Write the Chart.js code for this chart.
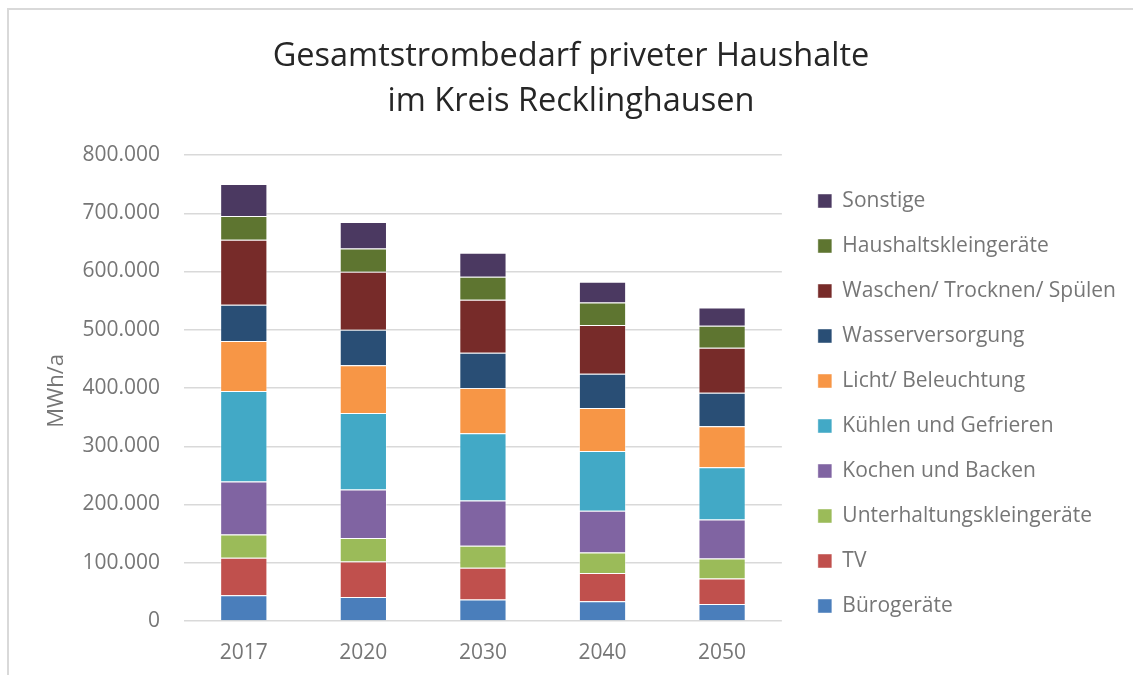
<!DOCTYPE html>
<html>
<head>
<meta charset="utf-8">
<script src="https://cdn.jsdelivr.net/npm/chart.js@4.4.1/dist/chart.umd.min.js"></script>
<style>
  html, body { margin: 0; padding: 0; background: #fff; }
  #wrap { position: relative; width: 1133px; height: 675px; overflow: hidden; }
  #frame { position: absolute; left: 7px; top: 8px; width: 1300px; height: 900px;
           border-left: 2px solid #d9d9d9; border-top: 2px solid #d9d9d9; }
  canvas { position: absolute; left: 0; top: 0; }
</style>
</head>
<body>
<div id="wrap">
  <div id="frame"></div>
  <canvas id="c" width="1133" height="675"></canvas>
</div>
<script>
const categories = ['2017', '2020', '2030', '2040', '2050'];

const buerogeraete        = [44000, 41100, 37100, 33700, 29100];
const tv                  = [64600, 61200, 54300, 48600, 44000];
const unterhaltung        = [40000, 40000, 37700, 35400, 34300];
const kochenBacken        = [90800, 83400, 77800, 71400, 66900];
const kuehlenGefrieren    = [155500, 131400, 115400, 102900, 89700];
const lichtBeleuchtung    = [85700, 81800, 77700, 73700, 70300];
const wasserversorgung    = [62300, 61100, 60600, 58900, 57700];
const waschenTrocknen     = [111400, 99400, 90800, 83400, 77100];
const haushaltsklein      = [41100, 40000, 39500, 38900, 37700];
const sonstige            = [54900, 45700, 41100, 35400, 31400];

const seriesNames = ['Bürogeräte', 'TV', 'Unterhaltungskleingeräte', 'Kochen und Backen',
  'Kühlen und Gefrieren', 'Licht/ Beleuchtung', 'Wasserversorgung',
  'Waschen/ Trocknen/ Spülen', 'Haushaltskleingeräte', 'Sonstige'];
const seriesValues = [buerogeraete, tv, unterhaltung, kochenBacken, kuehlenGefrieren,
  lichtBeleuchtung, wasserversorgung, waschenTrocknen, haushaltsklein, sonstige];
const seriesColors = ['#4a7ebb', '#c0504d', '#9bbb59', '#8064a2', '#42a9c6',
  '#f79646', '#294e75', '#772b29', '#5e7530', '#4b3961'];

const yTicks = [0, 100000, 200000, 300000, 400000, 500000, 600000, 700000, 800000];

const fmt = v => String(v).replace(/\B(?=(\d{3})+(?!\d))/g, '.');

const datasets = seriesNames.map((name, i) => ({
  label: name,
  data: seriesValues[i],
  backgroundColor: seriesColors[i],
  borderColor: 'rgba(255,255,255,0.45)',
  borderWidth: 1,
  categoryPercentage: 1.0,
  barPercentage: 0.395
}));

const FONT = "'Open Sans', 'DejaVu Sans', sans-serif";
const GRAY = '#767676';

new Chart(document.getElementById('c'), {
  type: 'bar',
  data: { labels: categories, datasets },
  options: {
    responsive: false,
    animation: false,
    devicePixelRatio: 1,
    layout: { padding: { left: 16, right: 7, top: 0, bottom: 0 } },
    plugins: {
      tooltip: { enabled: false },
      title: {
        display: true,
        text: ['Gesamtstrombedarf priveter Haushalte', 'im Kreis Recklinghausen'],
        color: '#262626',
        font: { family: FONT, size: 32.5, weight: 'normal', lineHeight: 45 / 32.5 },
        padding: { top: 34, bottom: 31 }
      },
      legend: {
        display: true,
        position: 'right',
        align: 'start',
        reverse: true,
        maxWidth: 420,
        title: { display: true, text: ' ', font: { size: 10, lineHeight: 1 }, padding: { top: 156.5, bottom: 0 } },
        labels: {
          boxWidth: 14,
          boxHeight: 14,
          padding: 24,
          color: GRAY,
          font: { family: FONT, size: 21 }
        }
      }
    },
    scales: {
      x: {
        stacked: true,
        grid: { display: false },
        border: { display: false },
        ticks: { color: GRAY, font: { family: FONT, size: 21 }, padding: 11 },
        afterFit: s => { s.height = 54; }
      },
      y: {
        stacked: true,
        min: 0,
        max: 800000,
        afterBuildTicks: s => { s.ticks = yTicks.map(v => ({ value: v })); },
        grid: { color: '#d9d9d9', lineWidth: 1.5, drawTicks: false },
        border: { display: false },
        ticks: { color: GRAY, font: { family: FONT, size: 21 }, padding: 24, callback: v => fmt(v) },
        title: {
          display: true,
          text: 'MWh/a ',
          color: GRAY,
          font: { family: FONT, size: 22 },
          padding: { top: 28, bottom: 0 }
        },
        afterFit: s => { s.width = 168; }
      },
      yR: {
        position: 'right',
        display: true,
        grid: { display: false },
        border: { display: false },
        ticks: { display: false },
        afterFit: s => { s.width = 12; }
      }
    }
  }
});
</script>
</body>
</html>
